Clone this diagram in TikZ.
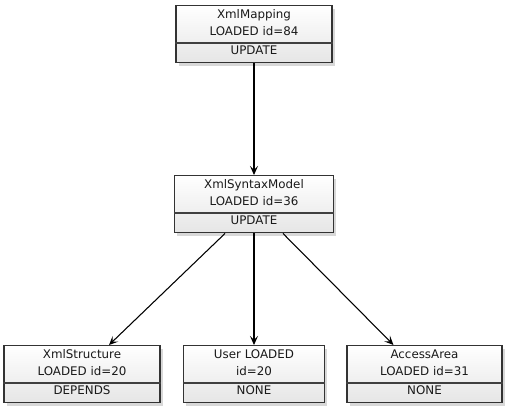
\documentclass[tikz,border=0pt]{standalone}
\usepackage{fontspec}
\setmainfont{DejaVu Sans}
\usetikzlibrary{arrows.meta,shadows}
\tikzset{
  box/.style={rectangle, draw=black!80, line width=1.1pt, inner sep=0pt,
    top color=white, bottom color=black!10,
    drop shadow={shadow xshift=2.2pt, shadow yshift=-2.2pt, opacity=0.25, fill=black!60}},
  divline/.style={draw=black!75, line width=1.1pt},
  txt/.style={inner sep=0pt, anchor=base, font=\fontsize{8.9pt}{10pt}\selectfont, text=black!90},
  link/.style={draw=black, line width=0.8pt, -{Stealth[length=6.75pt, width=6pt, inset=3pt]}}
}
\newcommand\umlbox[8]{%
  \node[box, minimum width={#3*0.75pt}, minimum height={57*0.75pt}, anchor=north] (#1) at (#2,#4) {};
  \draw[divline] ([yshift={-38*0.75pt}]#1.north west) -- ([yshift={-38*0.75pt}]#1.north east);
  \node[txt] (#1-a) at ([yshift={-13.8*0.75pt}]#1.north) {#6};
  \node[txt] (#1-b) at ([yshift={-30.8*0.75pt}]#1.north) {#7};
  \node[txt] (#1-c) at ([yshift={-49.6*0.75pt}]#1.north) {#8};
}
\begin{document}
\begin{tikzpicture}[x=0.75pt,y=-0.75pt]
\useasboundingbox[fill=white] (0,0) rectangle (508,408);
\umlbox{map}{254}{156}{5}{}{XmlMapping}{LOADED id=84}{UPDATE}
\umlbox{mid}{254}{159}{175}{}{XmlSyntaxModel}{LOADED id=36}{UPDATE}
\umlbox{s1}{82}{156}{345}{}{XmlStructure}{LOADED id=20}{DEPENDS}
\umlbox{s2}{254}{141}{345}{}{User LOADED}{id=20}{NONE}
\umlbox{s3}{424.5}{155}{345}{}{AccessArea}{LOADED id=31}{NONE}
\draw[link] (map.south) -- (mid.north);
\draw[link] ([xshift={-29*0.75pt}]mid.south) -- ([xshift={27*0.75pt}]s1.north);
\draw[link] (mid.south) -- (s2.north);
\draw[link] ([xshift={29*0.75pt}]mid.south) -- ([xshift={-31*0.75pt}]s3.north);
\end{tikzpicture}
\end{document}
